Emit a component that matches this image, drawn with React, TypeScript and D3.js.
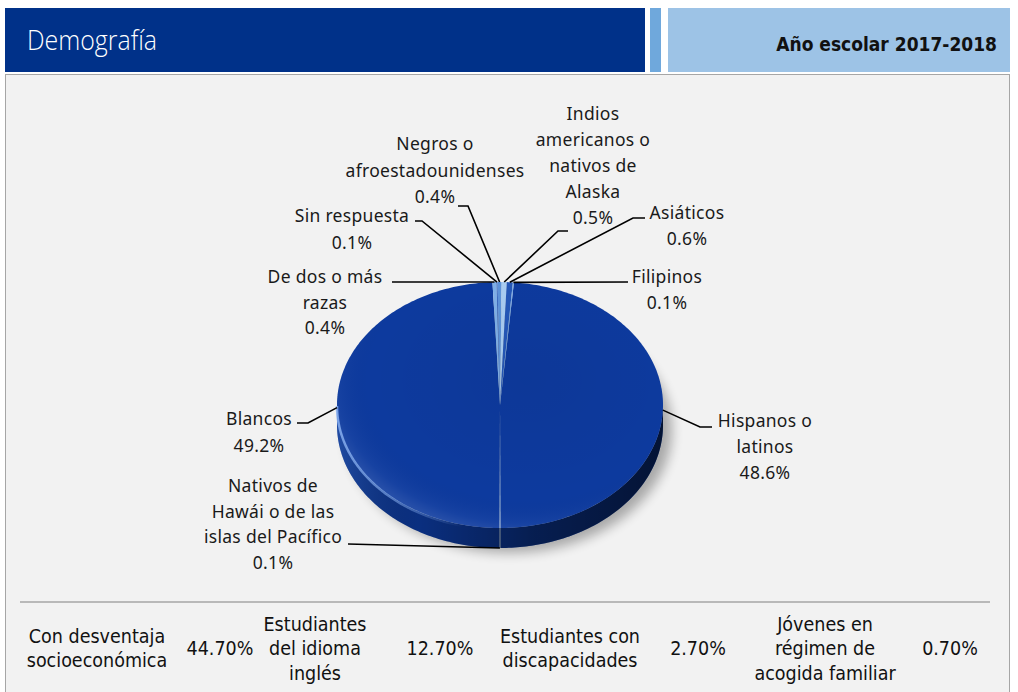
import React from "react";
import * as d3 from "d3";

// ---------- data ----------
const categories = [
  "Hispanos o latinos",
  "Nativos de Hawái o de las islas del Pacífico",
  "Blancos",
  "De dos o más razas",
  "Sin respuesta",
  "Negros o afroestadounidenses",
  "Indios americanos o nativos de Alaska",
  "Asiáticos",
  "Filipinos",
];
const values = [48.6, 0.1, 49.2, 0.4, 0.1, 0.4, 0.5, 0.6, 0.1];
const labelLines = [
  ["Hispanos o", "latinos"],
  ["Nativos de", "Hawái o de las", "islas del Pacífico"],
  ["Blancos"],
  ["De dos o más", "razas"],
  ["Sin respuesta"],
  ["Negros o", "afroestadounidenses"],
  ["Indios", "americanos o", "nativos de", "Alaska"],
  ["Asiáticos"],
  ["Filipinos"],
];
const tableLabels = [
  ["Con desventaja", "socioeconómica"],
  ["Estudiantes", "del idioma", "inglés"],
  ["Estudiantes con", "discapacidades"],
  ["Jóvenes en", "régimen de", "acogida familiar"],
];
const tableValues = ["44.70%", "12.70%", "2.70%", "0.70%"];
const title = "Demografía";
const yearLabel = "Año escolar 2017-2018";

// ---------- layout / style ----------
const W = 1018;
const H = 692;
const cx = 500;
const cy = 405;
const rx = 163;
const ry = 123;
const depth = 20;
const startDeg = 4.9;

const sliceColors = [
  "#0d3a9e",
  "#9cc3ee",
  "#0d3a9e",
  "#7fb0e8",
  "#2457b8",
  "#5d93da",
  "#a9cdf2",
  "#2457b8",
  "#6fa3e2",
];

// label placement: text center x, first baseline, line gap, label end point, elbow point
const labelLayout = [
  { x: 765, y: 427, gap: 26, end: [712, 427], elbow: [700, 427] },
  { x: 273, y: 492, gap: 25.5, end: [348, 544], elbow: null },
  { x: 259, y: 425, gap: 27, end: [297, 423], elbow: [308, 423] },
  { x: 325, y: 283, gap: 25.5, end: [392, 282], elbow: null },
  { x: 352, y: 222, gap: 27, end: [415, 221], elbow: [422, 221] },
  { x: 435, y: 150, gap: 26.5, end: [458, 206], elbow: [468, 206] },
  { x: 593, y: 120, gap: 26, end: [568, 231], elbow: [558, 231] },
  { x: 687, y: 219, gap: 26, end: [645, 218], elbow: [633, 218] },
  { x: 667, y: 283, gap: 26, end: [628, 282], elbow: null },
];

const tableLayout = {
  lineY: 602,
  labelX: [97, 315, 570, 825],
  valueX: [220, 440, 698, 950],
  midY: 655,
  gap: 24.5,
};

const px = (a: number, r = 1) => cx + rx * r * Math.sin(a);
const py = (a: number, r = 1) => cy - ry * r * Math.cos(a);

function topPath(a0: number, a1: number) {
  const n = Math.max(2, Math.ceil(((a1 - a0) / (Math.PI * 2)) * 360));
  const pts: [number, number][] = [];
  for (let i = 0; i <= n; i++) {
    const a = a0 + ((a1 - a0) * i) / n;
    pts.push([px(a), py(a)]);
  }
  return `M${cx},${cy}L` + pts.map((p) => p.join(",")).join("L") + "Z";
}

function rimPath(a0: number, a1: number) {
  const n = 120;
  const pts: [number, number][] = [];
  for (let i = 0; i <= n; i++) {
    const a = a0 + ((a1 - a0) * i) / n;
    pts.push([px(a), py(a)]);
  }
  return "M" + pts.map((p) => p.join(",")).join("L");
}

function sidePath(a0: number, a1: number) {
  const lo = Math.max(a0, Math.PI / 2);
  const hi = Math.min(a1, (Math.PI * 3) / 2);
  if (hi <= lo) return null;
  const n = Math.max(2, Math.ceil(((hi - lo) / (Math.PI * 2)) * 360));
  const top: [number, number][] = [];
  const bot: [number, number][] = [];
  for (let i = 0; i <= n; i++) {
    const a = lo + ((hi - lo) * i) / n;
    top.push([px(a), py(a)]);
    bot.push([px(a), py(a) + depth]);
  }
  bot.reverse();
  return "M" + top.concat(bot).map((p) => p.join(",")).join("L") + "Z";
}

const sans = "'Noto Sans', 'Open Sans', sans-serif";
const cond = "'DejaVu Sans Condensed', 'DejaVu Sans', sans-serif";

export default function App() {
  const data = categories.map((c, i) => ({ name: c, value: values[i], i }));
  const pie = d3
    .pie<{ name: string; value: number; i: number }>()
    .sort(null)
    .value((d) => d.value)
    .startAngle((startDeg * Math.PI) / 180)
    .endAngle((startDeg * Math.PI) / 180 + Math.PI * 2);
  const arcs = pie(data);
  const pctFmt = d3.format(".1f");
  const sideColor = (c: string) => d3.color(c)!.darker(0.35).formatHex();

  return (
    <svg
      width={W}
      height={H}
      style={{ position: "absolute", left: 0, top: 0 }}
      xmlns="http://www.w3.org/2000/svg"
    >
      <defs>
        <filter id="shadow" x="-30%" y="-30%" width="160%" height="160%">
          <feGaussianBlur stdDeviation="6" />
        </filter>
        <radialGradient id="topShade" cx="0.58" cy="0.40" r="0.62">
          <stop offset="0" stopColor="#000" stopOpacity="0.04" />
          <stop offset="0.78" stopColor="#000" stopOpacity="0" />
          <stop offset="0.94" stopColor="#fff" stopOpacity="0.04" />
          <stop offset="1" stopColor="#fff" stopOpacity="0.1" />
        </radialGradient>
        <linearGradient id="sideShade" x1="0" x2="1" y1="0" y2="0">
          <stop offset="0" stopColor="#4a7ad0" stopOpacity="0.35" />
          <stop offset="0.25" stopColor="#000" stopOpacity="0.08" />
          <stop offset="0.6" stopColor="#000" stopOpacity="0.42" />
          <stop offset="1" stopColor="#000" stopOpacity="0.62" />
        </linearGradient>
        <linearGradient id="bevel" x1="0" x2="1" y1="0" y2="0">
          <stop offset="0" stopColor="#86aef0" stopOpacity="0.85" />
          <stop offset="0.4" stopColor="#86aef0" stopOpacity="0.55" />
          <stop offset="0.85" stopColor="#86aef0" stopOpacity="0" />
        </linearGradient>
      </defs>

      {/* header */}
      <rect x={5} y={8} width={640} height={64} fill="#003189" />
      <rect x={650} y={8} width={11} height={64} fill="#6fa8dc" />
      <rect x={668} y={8} width={342} height={64} fill="#9dc3e6" />
      <text
        x={27}
        y={50}
        fill="#fff"
        fontFamily="'Open Sans', 'Noto Sans', sans-serif"
        fontSize={28}
        fontWeight={300}
        textLength={130}
        lengthAdjust="spacingAndGlyphs"
      >
        {title}
      </text>
      <text
        x={997}
        y={51}
        fill="#111"
        fontFamily={cond}
        fontSize={19}
        fontWeight="bold"
        textAnchor="end"
      >
        {yearLabel}
      </text>

      {/* panel */}
      <rect x={5.5} y={74.5} width={1004} height={640} fill="#f2f2f2" stroke="#a6a6a6" />

      {/* pie shadow */}
      <ellipse
        cx={cx + 9}
        cy={cy + depth + 5}
        rx={rx}
        ry={ry}
        fill="#000"
        opacity={0.3}
        filter="url(#shadow)"
      />

      {/* sides */}
      {arcs.map((a) => {
        const d = sidePath(a.startAngle, a.endAngle);
        const d2 = sidePath(a.startAngle + Math.PI * 2, a.endAngle + Math.PI * 2);
        return (
          <g key={"s" + a.index}>
            {d && <path d={d} fill={sideColor(sliceColors[a.index])} />}
            {d2 && <path d={d2} fill={sideColor(sliceColors[a.index])} />}
          </g>
        );
      })}
      <path d={sidePath(Math.PI / 2, (Math.PI * 3) / 2)!} fill="url(#sideShade)" />

      {/* top */}
      {arcs.map((a) => (
        <path key={"t" + a.index} d={topPath(a.startAngle, a.endAngle)} fill={sliceColors[a.index]} />
      ))}
      <ellipse cx={cx} cy={cy} rx={rx} ry={ry} fill="url(#topShade)" />
      <path
        d={rimPath(Math.PI * 1.03, Math.PI * 1.5)}
        fill="none"
        stroke="url(#bevel)"
        strokeWidth={2.5}
        transform="translate(0,1)"
      />

      {/* leader lines & labels */}
      {arcs.map((a) => {
        const L = labelLayout[a.index];
        const mid = (a.startAngle + a.endAngle) / 2;
        const ax = px(mid);
        const ay = py(mid) + depth * Math.max(0, -Math.cos(mid)) ** 4;
        const pts = [L.end, ...(L.elbow ? [L.elbow] : []), [ax, ay]];
        const lines = [...labelLines[a.index], pctFmt(a.data.value) + "%"];
        return (
          <g key={"l" + a.index}>
            <polyline
              points={pts.map((p) => p.join(",")).join(" ")}
              fill="none"
              stroke="#000"
              strokeWidth={1.6}
            />
            <text
              x={L.x}
              y={L.y}
              textAnchor="middle"
              fontFamily={sans}
              fontSize={17.5}
              fill="#1a1a1a"
              letterSpacing={0.3}
            >
              {lines.map((t, j) => (
                <tspan key={j} x={L.x} y={L.y + j * L.gap}>
                  {t}
                </tspan>
              ))}
            </text>
          </g>
        );
      })}

      {/* table */}
      <line
        x1={20}
        x2={990}
        y1={tableLayout.lineY}
        y2={tableLayout.lineY}
        stroke="#a6a6a6"
        strokeWidth={1.5}
      />
      {tableLabels.map((lines, i) => {
        const x = tableLayout.labelX[i];
        const y0 = tableLayout.midY - ((lines.length - 1) * tableLayout.gap) / 2;
        return (
          <g key={"tb" + i}>
            <text x={x} textAnchor="middle" fontFamily={cond} fontSize={19.5} fill="#111">
              {lines.map((t, j) => (
                <tspan key={j} x={x} y={y0 + j * tableLayout.gap}>
                  {t}
                </tspan>
              ))}
            </text>
            <text
              x={tableLayout.valueX[i]}
              y={tableLayout.midY}
              textAnchor="middle"
              fontFamily={cond}
              fontSize={19.5}
              fill="#111"
            >
              {tableValues[i]}
            </text>
          </g>
        );
      })}
    </svg>
  );
}
